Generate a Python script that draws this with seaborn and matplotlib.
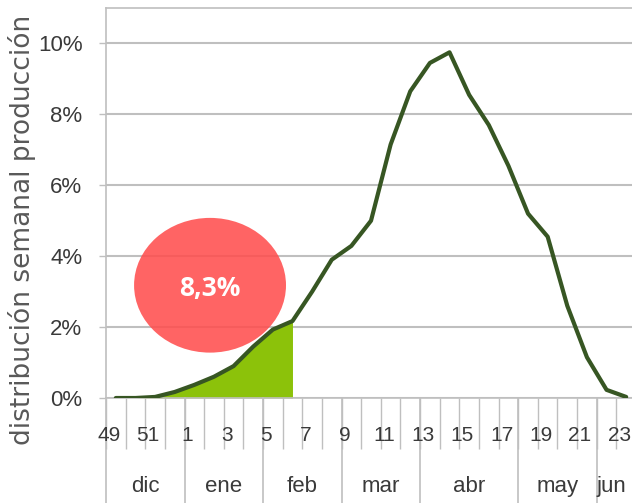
import matplotlib
matplotlib.use("Agg")
import matplotlib.pyplot as plt
import seaborn as sns
import numpy as np
import pandas as pd
from matplotlib.patches import Ellipse

## weekly production distribution (% of season), weeks 49 -> 23
weeks = [49, 50, 51, 52] + list(range(1, 24))
share = [0.0, 0.0, 0.03, 0.17, 0.37, 0.6, 0.9, 1.45, 1.93, 2.17,
         3.0, 3.9, 4.29, 5.0, 7.15, 8.65, 9.45, 9.75, 8.55, 7.7,
         6.55, 5.2, 4.55, 2.6, 1.15, 0.23, 0.03]
months = ["dic", "ene", "feb", "mar", "abr", "may", "jun"]
month_first_week = [49, 1, 5, 9, 13, 18, 22]
fill_until_week = 6
highlight_label = "8,3%"
yticks = [0, 2, 4, 6, 8, 10]

sns.set_style("white")
plt.rcParams['font.family'] = ['Liberation Sans', 'DejaVu Sans']

line_col = "#375623"
fill_col = "#8CC20A"
grid_col = "#BFBFBF"
txt_col = "#3A3A3A"

df = pd.DataFrame({"pos": np.arange(len(weeks)), "week": weeks, "share": share})
n = len(df)

fig = plt.figure(figsize=(6.32, 5.03), dpi=100)
ax = fig.add_axes([106/632, 105/503, 530/632, 390/503])

# filled part up to the highlighted week
k = weeks.index(fill_until_week)
ax.fill_between(df.pos[:k+1], df.share[:k+1], color=fill_col, lw=0, zorder=2)
sns.lineplot(data=df, x="pos", y="share", color=line_col, lw=3, ax=ax, zorder=3)

ax.set_xlim(-0.5, n - 0.5)
ax.set_ylim(0, 11)
ax.set_xlabel("")
ax.set_ylabel("")

# y axis
ax.set_yticks(yticks)
ax.set_yticklabels([f"{v}%" for v in yticks])
ax.yaxis.grid(True, color=grid_col, lw=1.5, zorder=0)
ax.set_axisbelow(True)
ax.tick_params(axis="y", direction="out", length=5, width=1, color=grid_col,
               pad=12, labelsize=16, labelcolor=txt_col, left=True)

# x axis: category boundaries as ticks, labels drawn as text
ax.set_xticks(np.arange(-0.5, n, 1))
ax.set_xticklabels([])
ax.tick_params(axis="x", direction="out", length=37, width=1, color=grid_col, bottom=True)
for s in ax.spines.values():
    s.set_color(grid_col)
    s.set_linewidth(1.2)

tr = ax.get_xaxis_transform()
for p, w in zip(df.pos, df.week):
    if w % 2 == 1:
        ax.text(p - 0.35, -0.095, str(w), transform=tr, ha="center", va="center",
                fontsize=15, color=txt_col)

bounds = [weeks.index(w) - 0.5 for w in month_first_week] + [n - 0.5]
for b in bounds:
    ax.plot([b, b], [0, -0.28], transform=tr, color=grid_col, lw=1.2, clip_on=False)
for m, a, b in zip(months, bounds[:-1], bounds[1:]):
    ax.text(min((a + b) / 2, n - 1.75), -0.228, m, transform=tr, ha="center",
            va="center", fontsize=16, color=txt_col)

# highlight bubble
ell = Ellipse((4.8, 3.18), 7.74, 3.8, facecolor="#FF4D4D", alpha=0.87, lw=0, zorder=4)
ax.add_patch(ell)
ax.text(4.78, 3.1, highlight_label, ha="center", va="center", fontsize=19,
        fontweight="bold", color="white", family=["Open Sans", "DejaVu Sans"], zorder=5)

fig.text(22/632, 1 - 230/503, "distribución semanal producción", rotation=90,
         ha="center", va="center", fontsize=19, color="#595959", family=["DejaVu Sans"])

fig.savefig("out.png", dpi=100)
